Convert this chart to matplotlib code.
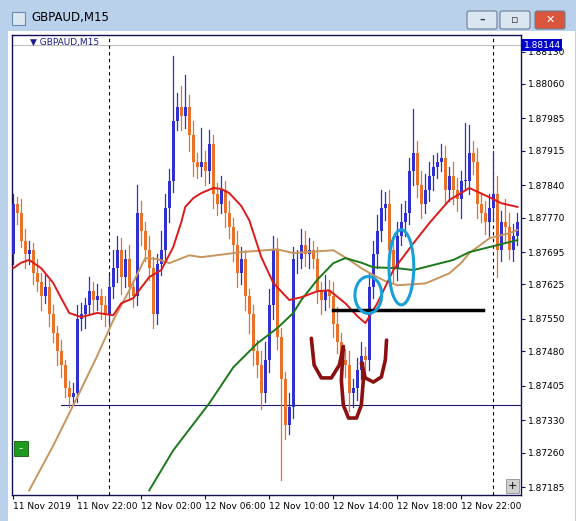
import numpy as np
import matplotlib.pyplot as plt
from matplotlib.patches import Rectangle, Ellipse, FancyBboxPatch

# closes per M15 bar, first bar = 11 Nov 18:00
closes = [1.87800, 1.87780, 1.87720, 1.87690, 1.87700,
          1.87650, 1.87630, 1.87600, 1.87620, 1.87560,
          1.87520, 1.87480, 1.87450, 1.87400, 1.87380,
          1.87390, 1.87550, 1.87560, 1.87580, 1.87610,
          1.87590, 1.87600, 1.87580, 1.87560, 1.87620,
          1.87660, 1.87700, 1.87640, 1.87680, 1.87620,
          1.87600, 1.87780, 1.87740, 1.87700, 1.87660,
          1.87560, 1.87670, 1.87700, 1.87790, 1.87850,
          1.87980, 1.88010, 1.87990, 1.88010, 1.87950,
          1.87890, 1.87880, 1.87890, 1.87870, 1.87930,
          1.87820, 1.87800, 1.87830, 1.87780, 1.87750,
          1.87710, 1.87650, 1.87680, 1.87600, 1.87560,
          1.87480, 1.87450, 1.87390, 1.87460, 1.87580,
          1.87700, 1.87510, 1.87420, 1.87320, 1.87360,
          1.87680, 1.87680, 1.87710, 1.87690, 1.87700,
          1.87680, 1.87610, 1.87590, 1.87610, 1.87600,
          1.87540, 1.87500, 1.87460, 1.87450, 1.87390,
          1.87400, 1.87440, 1.87470, 1.87460, 1.87620,
          1.87690, 1.87740, 1.87790, 1.87800, 1.87700,
          1.87660, 1.87730, 1.87760, 1.87780, 1.87870,
          1.87910, 1.87840, 1.87800, 1.87830, 1.87860,
          1.87880, 1.87890, 1.87900, 1.87830, 1.87860,
          1.87830, 1.87810, 1.87850, 1.87850, 1.87910,
          1.87890, 1.87800, 1.87780, 1.87760, 1.87790,
          1.87820, 1.87700, 1.87760, 1.87750, 1.87700,
          1.87730, 1.87760]
first_open = 1.87690
# wick lengths in points (0.00001)
upper = [20, 15, 30, 25, 20, 15, 30, 20, 25, 15,
         20, 15, 25, 10, 15, 20, 30, 25, 15, 30,
         20, 25, 15, 20, 25, 40, 30, 25, 20, 30,
         15, 60, 25, 20, 30, 25, 20, 40, 30, 25,
         140, 30, 45, 70, 25, 30, 20, 75, 25, 30,
         20, 25, 30, 20, 25, 20, 30, 25, 20, 15,
         20, 25, 30, 40, 35, 30, 25, 20, 15, 30,
         25, 20, 35, 30, 25, 20, 25, 20, 35, 25,
         30, 35, 20, 25, 30, 20, 25, 30, 20, 30,
         30, 35, 40, 25, 30, 20, 30, 40, 25, 30,
         95, 25, 30, 35, 30, 25, 20, 30, 25, 20,
         30, 25, 20, 125, 60, 25, 30, 20, 25, 30,
         95, 40, 25, 50, 30, 25, 20]
lower = [20, 25, 15, 30, 20, 25, 20, 30, 15, 25,
         20, 30, 25, 20, 20, 15, 20, 25, 30, 20,
         25, 20, 30, 25, 20, 25, 30, 35, 20, 30,
         25, 20, 30, 25, 25, 30, 20, 25, 20, 30,
         25, 20, 30, 25, 35, 30, 25, 20, 30, 25,
         30, 25, 20, 30, 25, 35, 30, 25, 30, 40,
         30, 25, 35, 20, 25, 30, 25, 220, 30, 20,
         25, 30, 20, 25, 30, 20, 25, 30, 20, 25,
         30, 25, 20, 25, 40, 30, 25, 20, 30, 20,
         25, 30, 20, 25, 40, 30, 25, 20, 30, 25,
         30, 25, 30, 20, 25, 30, 25, 20, 30, 25,
         30, 25, 40, 20, 30, 25, 30, 20, 25, 30,
         25, 60, 25, 30, 20, 25, 20]

# moving averages read at sample bars
red_idx = [0, 2, 4, 7, 10, 12, 14, 17, 21, 25, 27, 30, 34, 37, 40, 42, 43, 45, 47, 50, 52,
           54, 57, 59, 62, 65, 69, 72, 76, 79, 83, 86, 88, 91, 95, 100, 104, 109, 114, 119,
           122, 126]
red_val = [1.87660, 1.87672, 1.87678, 1.87660, 1.87628, 1.87595, 1.87563, 1.87554, 1.87563,
           1.87558, 1.87584, 1.87595, 1.87641, 1.87656, 1.87706, 1.87760, 1.87793, 1.87812,
           1.87823, 1.87834, 1.87832, 1.87823, 1.87795, 1.87764, 1.87684, 1.87628, 1.87591,
           1.87597, 1.87610, 1.87612, 1.87584, 1.87556, 1.87541, 1.87584, 1.87656, 1.87714,
           1.87758, 1.87808, 1.87834, 1.87814, 1.87801, 1.87793]
tan_idx = [4, 10, 16, 21, 25, 29, 33, 36, 39, 44, 47, 57, 66, 70, 80, 84, 87, 90, 93, 96,
           103, 109, 112, 114, 117, 119, 124, 126]
tan_val = [1.87178, 1.87275, 1.87380, 1.87470, 1.87547, 1.87612, 1.87682, 1.87680, 1.87671,
           1.87688, 1.87684, 1.87695, 1.87701, 1.87693, 1.87699, 1.87678, 1.87660, 1.87645,
           1.87632, 1.87623, 1.87627, 1.87649, 1.87672, 1.87693, 1.87712, 1.87725, 1.87736,
           1.87743]
green_idx = [34, 40, 49, 55, 61, 66, 70, 72, 76, 80, 83, 87, 90, 96, 100, 105, 110, 114,
             120, 126]
green_val = [1.87178, 1.87265, 1.87367, 1.87445, 1.87497, 1.87530, 1.87563, 1.87591,
             1.87635, 1.87671, 1.87682, 1.87672, 1.87662, 1.87660, 1.87656, 1.87667,
             1.87678, 1.87695, 1.87708, 1.87721]

price_ticks = [1.87185, 1.87260, 1.87330, 1.87405, 1.87480, 1.87550, 1.87625, 1.87695,
               1.87770, 1.87840, 1.87915, 1.87985, 1.88060, 1.88130]
time_idx = [0, 16, 32, 48, 64, 80, 96, 112]
time_labels = ["11 Nov 2019", "11 Nov 22:00", "12 Nov 02:00", "12 Nov 06:00",
               "12 Nov 10:00", "12 Nov 14:00", "12 Nov 18:00", "12 Nov 22:00"]
day_sep = [24, 120]
support = 1.87363
black_level = 1.87569
last_price = 1.88144

# hand drawn marks (bar index, price)
u_left_x = [74.5, 75.2, 77, 79.5, 81.5, 82.5]
u_left_y = [1.87508, 1.87450, 1.87422, 1.87422, 1.87450, 1.87490]
u_mid_x = [82.5, 82.0, 82.5, 83.8, 85.8, 87.0, 87.5, 87.3]
u_mid_y = [1.87490, 1.87417, 1.87363, 1.87335, 1.87335, 1.87363, 1.87417, 1.87454]
u_right_x = [87.0, 88.0, 90.0, 92.0, 93.0, 93.3]
u_right_y = [1.87454, 1.87422, 1.87413, 1.87424, 1.87461, 1.87504]

W, H = 576, 521
fig = plt.figure(figsize=(W / 100, H / 100), dpi=100)
fig.patch.set_facecolor('#b9d1ea')

# window chrome
fig.patches.append(Rectangle((8 / W, 0), 567 / W, 490 / H, transform=fig.transFigure,
                             facecolor='white', edgecolor='none', zorder=-5))
fig.text(31 / W, 1 - 18 / H, "GBPAUD,M15", fontsize=8.5, va='center', color='black')
fig.patches.append(Rectangle((12 / W, 1 - 25 / H), 13 / W, 13 / H, transform=fig.transFigure,
                             facecolor='#dce6f2', edgecolor='#6a8ab0', lw=0.8))
for x0, fc, sym in [(467, '#dbe6f3', '–'), (500, '#dbe6f3', '▫'), (535, '#d9553c', '✕')]:
    fig.patches.append(FancyBboxPatch((x0 / W, 1 - 29 / H), 30 / W, 18 / H, transform=fig.transFigure,
                                      boxstyle='round,pad=0,rounding_size=0.004',
                                      facecolor=fc, edgecolor='#6d7e95', lw=0.8))
    fig.text((x0 + 15) / W, 1 - 20 / H, sym, fontsize=8, ha='center', va='center',
             color='white' if fc == '#d9553c' else '#333333', fontweight='bold')

ax = fig.add_axes([12 / W, 1 - 495 / H, 509 / W, 460 / H])
ax.set_zorder(5)
ax.set_facecolor('white')
ax.set_xlim(-0.3, 126.9)
ax.set_ylim(1.87168, 1.88166)

n = len(closes)
opens = [first_open] + closes[:-1]
for i in range(n):
    o, c = opens[i], closes[i]
    hi = max(o, c) + upper[i] * 1e-5
    lo = min(o, c) - lower[i] * 1e-5
    col = '#3030d0' if c >= o else '#e8722a'
    ax.plot([i, i], [lo, hi], color=col, lw=0.9, zorder=2)
    ax.add_patch(Rectangle((i - 0.36, min(o, c)), 0.72, max(abs(c - o), 1e-5),
                           facecolor=col, edgecolor='none', zorder=3))

ax.plot(tan_idx, tan_val, color='#c8955e', lw=1.4, zorder=4)
ax.plot(green_idx, green_val, color='#1a7a1a', lw=1.4, zorder=4)
ax.plot(red_idx, red_val, color='#dd1a1a', lw=1.4, zorder=5)

ax.axhline(last_price, color='#c0c0c0', lw=0.8, zorder=1)
ax.plot([12, 127], [support, support], color='#1a1a6e', lw=0.8, zorder=1)
for d in day_sep:
    ax.axvline(d, color='black', lw=0.8, ls=(0, (3, 3)), zorder=1)
ax.plot([80, 117.5], [black_level, black_level], color='black', lw=2.5, zorder=6)

ax.add_patch(Ellipse((88.75, 1.87602), 6.7, 0.00080, fill=False, edgecolor='#1aa0d8', lw=2.2, zorder=7))
ax.add_patch(Ellipse((97.0, 1.87662), 6.2, 0.00163, fill=False, edgecolor='#1aa0d8', lw=2.2, zorder=7))
for xs, ys in [(u_left_x, u_left_y), (u_mid_x, u_mid_y), (u_right_x, u_right_y)]:
    ax.plot(xs, ys, color='#8b1010', lw=2.6, solid_capstyle='round', zorder=7)

ax.text(0.035, 0.983, "▼ GBPAUD,M15", transform=ax.transAxes, fontsize=6.5,
        color='#1a1a8c', va='center')
ax.add_patch(Rectangle((0.003, 0.085), 0.028, 0.033, transform=ax.transAxes,
                       facecolor='#1e9a1e', edgecolor='#0f5f0f', lw=0.6, zorder=8))
ax.text(0.017, 0.1, "–", transform=ax.transAxes, fontsize=6, color='white',
        ha='center', va='center', zorder=9)
ax.add_patch(Rectangle((0.97, 0.005), 0.027, 0.03, transform=ax.transAxes,
                       facecolor='#d0d0d0', edgecolor='#909090', lw=0.6, zorder=8))
ax.text(0.9835, 0.02, "+", transform=ax.transAxes, fontsize=8, ha='center',
        va='center', zorder=9)

for s in ax.spines.values():
    s.set_color('#101050')
    s.set_linewidth(1.0)
ax.yaxis.tick_right()
ax.set_yticks(price_ticks)
ax.set_yticklabels([f"{p:.5f}" for p in price_ticks])
ax.tick_params(axis='y', labelsize=6.5, length=3, color='#101050', pad=2)
ax.set_xticks(time_idx)
ax.set_xticklabels(time_labels, ha='left')
ax.tick_params(axis='x', labelsize=6.5, length=3, color='#101050', pad=2, direction='out')
ax.text(1.005, (last_price - 1.87168) / (1.88166 - 1.87168), f"{last_price:.5f}",
        transform=ax.transAxes, fontsize=6.5, color='white', va='center', ha='left',
        bbox=dict(boxstyle='square,pad=0.15', facecolor='#0000cc', edgecolor='none'), zorder=10)

fig.savefig('out.png', dpi=100)
